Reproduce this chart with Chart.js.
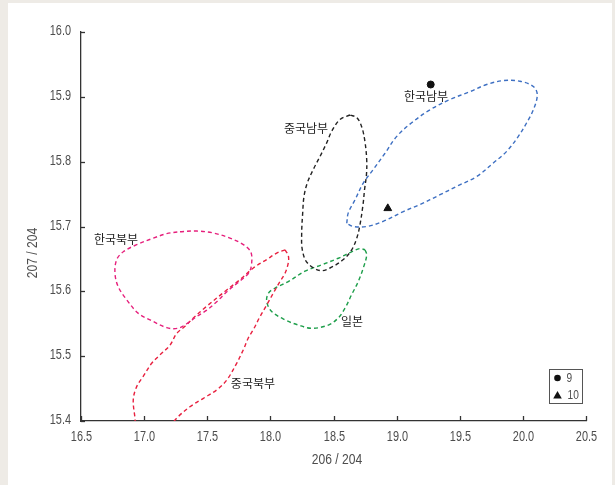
<!DOCTYPE html>
<html>
<head>
<meta charset="utf-8">
<script src="https://cdn.jsdelivr.net/npm/chart.js@4/dist/chart.umd.min.js"></script>
<style>
  html, body { margin: 0; padding: 0; background: #eeebe6; }
  #panel { position: absolute; left: 8px; top: 3px; width: 604px; height: 482px; background: #fff; }
  #wrap { position: absolute; left: 0; top: 0; width: 615px; height: 485px; }
</style>
</head>
<body>
<div id="panel"></div>
<div id="wrap"><canvas id="isoChart" width="615" height="485"></canvas></div>
<script>
// outlines of each region, [206/204, 207/204]
const koreaSouth = [
  [18.605, 15.705], [18.617, 15.721], [18.670, 15.741], [18.736, 15.767], [18.815, 15.788],
  [18.908, 15.813], [19.001, 15.839], [19.119, 15.860], [19.264, 15.880], [19.423, 15.896],
  [19.581, 15.908], [19.713, 15.919], [19.845, 15.925], [19.977, 15.924], [20.083, 15.916],
  [20.114, 15.903], [20.083, 15.880], [20.030, 15.860], [19.964, 15.839], [19.872, 15.816],
  [19.766, 15.798], [19.634, 15.777], [19.476, 15.762], [19.344, 15.749], [19.185, 15.734],
  [19.053, 15.723], [18.894, 15.708], [18.763, 15.700], [18.657, 15.700], [18.605, 15.705]
];
const chinaSouth = [
  [18.631, 15.872], [18.551, 15.865], [18.486, 15.847], [18.446, 15.829], [18.393, 15.808],
  [18.340, 15.788], [18.292, 15.767], [18.266, 15.746], [18.256, 15.721], [18.248, 15.690],
  [18.253, 15.664], [18.292, 15.644], [18.393, 15.632], [18.472, 15.636], [18.578, 15.649],
  [18.644, 15.664], [18.686, 15.683], [18.710, 15.703], [18.734, 15.734], [18.746, 15.757],
  [18.761, 15.780], [18.763, 15.803], [18.749, 15.831], [18.723, 15.854], [18.684, 15.868],
  [18.631, 15.872]
];
const koreaNorth = [
  [17.284, 15.692], [17.416, 15.693], [17.548, 15.690], [17.680, 15.682], [17.786, 15.672],
  [17.844, 15.661], [17.852, 15.644], [17.831, 15.629], [17.759, 15.616], [17.664, 15.601],
  [17.575, 15.584], [17.496, 15.571], [17.416, 15.561], [17.337, 15.550], [17.268, 15.543],
  [17.179, 15.544], [17.047, 15.556], [16.954, 15.566], [16.862, 15.587], [16.795, 15.607],
  [16.769, 15.628], [16.783, 15.649], [16.835, 15.661], [16.941, 15.672], [17.073, 15.682],
  [17.179, 15.689], [17.284, 15.692]
];
const chinaNorth = [
  [18.116, 15.664], [18.142, 15.655], [18.142, 15.644], [18.116, 15.628], [18.076, 15.615],
  [18.037, 15.602], [17.971, 15.579], [17.918, 15.561], [17.865, 15.541], [17.825, 15.528],
  [17.786, 15.510], [17.733, 15.489], [17.654, 15.463], [17.575, 15.448], [17.469, 15.435],
  [17.363, 15.422], [17.271, 15.407], [17.221, 15.396], [17.126, 15.377], [17.007, 15.377],
  [16.936, 15.392], [16.928, 15.404], [16.914, 15.433], [16.941, 15.453], [16.993, 15.469],
  [17.060, 15.489], [17.126, 15.502], [17.205, 15.517], [17.258, 15.535], [17.324, 15.546],
  [17.390, 15.559], [17.496, 15.577], [17.654, 15.602], [17.759, 15.618], [17.865, 15.636],
  [17.971, 15.649], [18.050, 15.659], [18.116, 15.664]
];
const japan = [
  [18.750, 15.664], [18.763, 15.656], [18.736, 15.636], [18.696, 15.615], [18.644, 15.595],
  [18.591, 15.574], [18.538, 15.559], [18.459, 15.548], [18.327, 15.543], [18.221, 15.548],
  [18.116, 15.556], [18.010, 15.569], [17.971, 15.584], [17.984, 15.597], [18.037, 15.605],
  [18.142, 15.615], [18.274, 15.631], [18.407, 15.641], [18.538, 15.651], [18.644, 15.661],
  [18.710, 15.666], [18.750, 15.664]
];

// single samples
const sample9 = [[19.27, 15.919]];
const sample10 = [[18.93, 15.728]];

const regionLabels = [
  { text: '한국남부', x: 19.233, y: 15.901 },
  { text: '중국남부', x: 18.282, y: 15.852 },
  { text: '한국북부', x: 16.777, y: 15.680 },
  { text: '일본', x: 18.647, y: 15.554 },
  { text: '중국북부', x: 17.862, y: 15.458 }
];

const xTitle = '206 / 204';
const yTitle = '207 / 204';
const numFont = '"Liberation Sans", Arial, sans-serif';

const toPts = (arr) => arr.map(p => ({ x: p[0], y: p[1] }));

function outline(data, color) {
  return {
    data: toPts(data),
    showLine: true,
    borderColor: color,
    borderWidth: 1.4,
    borderDash: [4, 3],
    tension: 0.35,
    pointRadius: 0,
    fill: false
  };
}

// the numbers in the original are a narrow face, so squeeze them sideways
function narrowText(ctx, text, x, y, size, align) {
  const squeeze = 0.78;
  ctx.save();
  ctx.font = size + 'px ' + numFont;
  ctx.textAlign = align;
  ctx.translate(x, y);
  ctx.scale(squeeze, 1);
  ctx.fillText(text, 0, 0);
  ctx.restore();
}

// ticks pointing into the plot, tick labels, titles, region names and the small legend box
const decorations = {
  id: 'decorations',
  afterDraw(chart) {
    const ctx = chart.ctx;
    const xs = chart.scales.x;
    const ys = chart.scales.y;
    const area = chart.chartArea;
    ctx.save();
    ctx.strokeStyle = '#333';
    ctx.lineWidth = 1.3;
    ctx.fillStyle = '#4d4d4d';
    ctx.textBaseline = 'middle';
    xs.ticks.forEach(t => {
      const px = Math.round(xs.getPixelForValue(t.value)) + 0.5;
      ctx.beginPath();
      ctx.moveTo(px, area.bottom);
      ctx.lineTo(px, area.bottom - 5);
      ctx.stroke();
      narrowText(ctx, t.value.toFixed(1), px, 437, 14, 'center');
    });
    ys.ticks.forEach(t => {
      const py = Math.round(ys.getPixelForValue(t.value)) + 0.5;
      ctx.beginPath();
      ctx.moveTo(area.left, py);
      ctx.lineTo(area.left + 4, py);
      ctx.stroke();
      narrowText(ctx, t.value.toFixed(1), 71, py - 1, 14, 'right');
    });

    narrowText(ctx, xTitle, 337, 460, 15.5, 'center');
    ctx.save();
    ctx.translate(33, 253);
    ctx.rotate(-Math.PI / 2);
    narrowText(ctx, yTitle, 0, 0, 15.5, 'center');
    ctx.restore();

    ctx.fillStyle = '#222';
    ctx.font = '12px "Noto Sans CJK KR", sans-serif';
    ctx.textAlign = 'center';
    regionLabels.forEach(l => {
      ctx.fillText(l.text, xs.getPixelForValue(l.x), ys.getPixelForValue(l.y));
    });

    // legend
    ctx.strokeStyle = '#555';
    ctx.lineWidth = 1;
    ctx.strokeRect(549.5, 369.5, 33, 34);
    ctx.fillStyle = '#111';
    ctx.beginPath();
    ctx.arc(557.5, 378, 3.3, 0, Math.PI * 2);
    ctx.fill();
    ctx.beginPath();
    ctx.moveTo(557.5, 391);
    ctx.lineTo(561.8, 398.5);
    ctx.lineTo(553.2, 398.5);
    ctx.closePath();
    ctx.fill();
    ctx.fillStyle = '#4d4d4d';
    narrowText(ctx, '9', 566.5, 378, 13, 'left');
    narrowText(ctx, '10', 567.5, 395.5, 13, 'left');
    ctx.restore();
  }
};

const canvas = document.getElementById('isoChart');
new Chart(canvas, {
  type: 'scatter',
  data: {
    datasets: [
      outline(koreaSouth, '#3d6fc2'),
      outline(chinaSouth, '#222222'),
      outline(koreaNorth, '#e6207c'),
      outline(chinaNorth, '#e8203f'),
      outline(japan, '#1d9e4a'),
      { data: toPts(sample9), pointStyle: 'circle', pointRadius: 3.5, backgroundColor: '#111', borderColor: '#111' },
      { data: toPts(sample10), pointStyle: 'triangle', pointRadius: 4.5, backgroundColor: '#111', borderColor: '#111' }
    ]
  },
  options: {
    responsive: false,
    animation: false,
    layout: { padding: { left: 0, right: 29, top: 32, bottom: 0 } },
    plugins: {
      legend: { display: false },
      tooltip: { enabled: false }
    },
    scales: {
      x: {
        type: 'linear',
        min: 16.5,
        max: 20.5,
        ticks: { stepSize: 0.5, display: false },
        grid: { display: true, drawOnChartArea: false, drawTicks: false },
        border: { display: true, color: '#333', width: 1.3 },
        afterFit: s => { s.height = 64; }
      },
      y: {
        type: 'linear',
        min: 15.4,
        max: 16.0,
        ticks: { stepSize: 0.1, display: false },
        grid: { display: true, drawOnChartArea: false, drawTicks: false },
        border: { display: true, color: '#333', width: 1.3 },
        afterFit: s => { s.width = 81; }
      }
    }
  },
  plugins: [decorations]
});
</script>
</body>
</html>
